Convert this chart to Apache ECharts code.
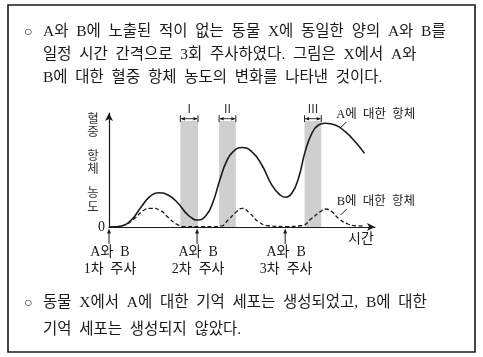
<!DOCTYPE html>
<html><head><meta charset="utf-8">
<script src="https://cdn.jsdelivr.net/npm/echarts@6/dist/echarts.min.js"></script>
<style>html,body{margin:0;padding:0;background:#fff;}#c{width:483px;height:357px;}</style>
</head><body><div id="c"></div>
<script>
// ---- data (time: arbitrary units, injections every 10; level: 0-100) ----
const timesA = [0, 0.7, 1.4, 2.53, 3.67, 4.63, 5.57, 6.7, 7.84, 8.98, 10.1, 11.06, 11.82, 12.58, 13.33, 14.09, 15.06, 16.2, 17.35, 18.49, 19.43, 20.0, 20.76, 21.51, 22.27, 23.03, 23.78, 24.55, 25.68, 26.82, 27.95, 29.01];
const antibodyA = [0, 0.1, 0.9, 6.1, 17.8, 26.6, 30.1, 28.1, 20.8, 10.5, 6.1, 10.5, 22.2, 41.2, 57.3, 66.1, 69.7, 66.1, 54.4, 36.8, 28.1, 26.1, 29.6, 42.7, 66.1, 82.2, 89.5, 91.0, 89.5, 83.6, 74.8, 64.6];
const timesB = [0, 1.4, 2.92, 3.86, 4.81, 5.76, 6.7, 7.65, 8.6, 10.3, 11.9, 12.76, 13.52, 14.47, 15.1, 16.0, 16.97, 18.1, 20.0, 21.9, 23.03, 23.98, 24.55, 25.3, 26.06, 27.2, 28.33, 28.9];
const antibodyB = [0, 0.9, 7.6, 14.3, 16.4, 14.9, 8.5, 2.6, 0.3, 0.2, 0.3, 0.9, 6.1, 13.4, 16.4, 12.0, 4.6, 1.1, 0.4, 1.3, 7.6, 13.4, 15.8, 13.4, 7.6, 2.4, 0.9, 0.9];
const bandNames = ['Ⅰ', 'Ⅱ', 'Ⅲ'];
const bandStarts = [8.1, 12.5, 22.2];
const bandEnds = [10.1, 14.4, 24.1];
const bandTop = 93;
const injectionTimes = [0, 10, 20];
const injectionLine1 = ['A와 B', 'A와 B', 'A와 B'];
const injectionLine2 = ['1차 주사', '2차 주사', '3차 주사'];
const seriesNames = ['A에 대한 항체', 'B에 대한 항체'];
const labelAnchors = [[26.25, 86.8], [26.3, 10.5]];
const xAxisName = '시간';
const yAxisNameParts = ['혈\n중', '항\n체', '농\n도'];
const topLines = ['A와 B에 노출된 적이 없는 동물 X에 동일한 양의 A와 B를', '일정 시간 간격으로 3회 주사하였다. 그림은 X에서 A와', 'B에 대한 혈중 항체 농도의 변화를 나타낸 것이다.'];
const bottomLines = ['동물 X에서 A에 대한 기억 세포는 생성되었고, B에 대한', '기억 세포는 생성되지 않았다.'];

const FONT = "'Liberation Serif', 'Noto Sans CJK KR', serif";
const INK = '#1a1a1a';
const wide = s => s.replace(/ /g, '\u2002'); // wider word spacing, as in the typeset original
const chart = echarts.init(document.getElementById('c'), null, {renderer: 'canvas'});

const zip = (xs, ys) => xs.map((x, i) => [x, ys[i]]);

chart.setOption({
  animation: false,
  backgroundColor: '#fff',
  grid: {left: 109, top: 113, right: 108, bottom: 130},
  xAxis: {
    type: 'value', min: 0, max: 30.2,
    axisLine: {show: true, symbol: ['none', 'arrow'], symbolSize: [6, 8], lineStyle: {color: INK, width: 1.2}},
    axisTick: {show: false}, axisLabel: {show: false}, splitLine: {show: false}
  },
  yAxis: {
    type: 'value', min: 0, max: 100, interval: 100,
    axisLine: {show: true, symbol: ['none', 'arrow'], symbolSize: [6, 8], lineStyle: {color: INK, width: 1.2}},
    axisTick: {show: false}, splitLine: {show: false},
    axisLabel: {formatter: v => v === 0 ? '0' : '', fontFamily: FONT, fontSize: 14, color: INK, margin: 4}
  },
  series: [
    {
      type: 'line', data: [], z: 1, silent: true,
      markArea: {
        silent: true,
        itemStyle: {color: '#cfcfcf'},
        data: bandStarts.map((s, i) => [{xAxis: s, yAxis: 0}, {xAxis: bandEnds[i], yAxis: bandTop}])
      }
    },
    {
      name: seriesNames[0], type: 'line', z: 3, data: zip(timesA, antibodyA), smooth: 0.5,
      showSymbol: false, lineStyle: {color: INK, width: 1.6}
    },
    {
      name: seriesNames[1], type: 'line', z: 3, data: zip(timesB, antibodyB), smooth: 0.5,
      showSymbol: false, lineStyle: {color: INK, width: 1.3, type: [4, 2.5]}
    }
  ]
});

const px = (t, v) => chart.convertToPixel({gridIndex: 0}, [t, v]);
const g = [];
// outer box
g.push({type: 'rect', shape: {x: 8, y: 5, width: 467, height: 347}, style: {fill: 'none', stroke: INK, lineWidth: 1.6}, z: 10});
// paragraph text
const txt = (s, x, y, size, extra) => ({type: 'text', x: x, y: y, z: 10, style: Object.assign({text: s, fontFamily: FONT, fontSize: size, fill: INK, verticalAlign: 'middle'}, extra || {})});
g.push(txt('○', 24, 32, 14));
topLines.forEach((l, i) => g.push(txt(wide(l), 43, 32 + i * 23, 15.5)));
g.push(txt('○', 24, 303, 14));
bottomLines.forEach((l, i) => g.push(txt(wide(l), 43, 303 + i * 27, 15.5)));

// y axis name (stacked)
const yCenters = [126, 163, 200.5];
yAxisNameParts.forEach((p, i) => {
  g.push(txt(p, 93, yCenters[i], 12.5, {lineHeight: 13.5, fill: '#333', align: 'center'}));
});
// x axis name
const xEnd = px(30.2, 0);
g.push(txt(xAxisName, xEnd[0] - 14, xEnd[1] + 12, 14, {align: 'center'}));

// bands: brackets + roman labels
bandStarts.forEach((s, i) => {
  const a = px(s, 98), b = px(bandEnds[i], 92.1), m = px(s, 95);
  const x1 = a[0], x2 = b[0], yTop = a[1], yBot = b[1], ym = m[1];
  g.push({type: 'line', shape: {x1: x1, y1: yTop, x2: x1, y2: yBot}, style: {stroke: INK, lineWidth: 1}, z: 10});
  g.push({type: 'line', shape: {x1: x2, y1: yTop, x2: x2, y2: yBot}, style: {stroke: INK, lineWidth: 1}, z: 10});
  g.push({type: 'line', shape: {x1: x1 + 1, y1: ym, x2: x2 - 1, y2: ym}, style: {stroke: INK, lineWidth: 0.9}, z: 10});
  g.push({type: 'polygon', shape: {points: [[x1 + 0.5, ym], [x1 + 4.5, ym - 1.8], [x1 + 4.5, ym + 1.8]]}, style: {fill: INK}, z: 10});
  g.push({type: 'polygon', shape: {points: [[x2 - 0.5, ym], [x2 - 4.5, ym - 1.8], [x2 - 4.5, ym + 1.8]]}, style: {fill: INK}, z: 10});
  g.push(txt(bandNames[i], (x1 + x2) / 2, yTop - 6.5, 12, {fontFamily: "'Noto Sans CJK KR', serif", fill: '#333', align: 'center'}));
});

// injection arrows and labels
injectionTimes.forEach((t, i) => {
  const p = px(t, 0);
  const x = p[0], y0 = p[1];
  g.push({type: 'line', shape: {x1: x, y1: y0 + 4, x2: x, y2: y0 + 17}, style: {stroke: INK, lineWidth: 1}, z: 10});
  g.push({type: 'polygon', shape: {points: [[x, y0 + 1.5], [x - 2, y0 + 6.5], [x + 2, y0 + 6.5]]}, style: {fill: INK}, z: 10});
  g.push(txt(wide(injectionLine1[i]), x + 1, y0 + 25, 14, {align: 'center'}));
  g.push(txt(wide(injectionLine2[i]), x + 1, y0 + 42, 14, {align: 'center'}));
});

// series labels with leader lines
labelAnchors.forEach((an, i) => {
  const p = px(an[0], an[1]);
  g.push({type: 'line', shape: {x1: p[0], y1: p[1], x2: p[0] + 6, y2: p[1] - 6}, style: {stroke: INK, lineWidth: 1}, z: 10});
  g.push(txt(wide(seriesNames[i]), p[0] - 4, p[1] - 13, 12.5, {align: 'left'}));
});

chart.setOption({graphic: {elements: g}});
</script></body></html>
